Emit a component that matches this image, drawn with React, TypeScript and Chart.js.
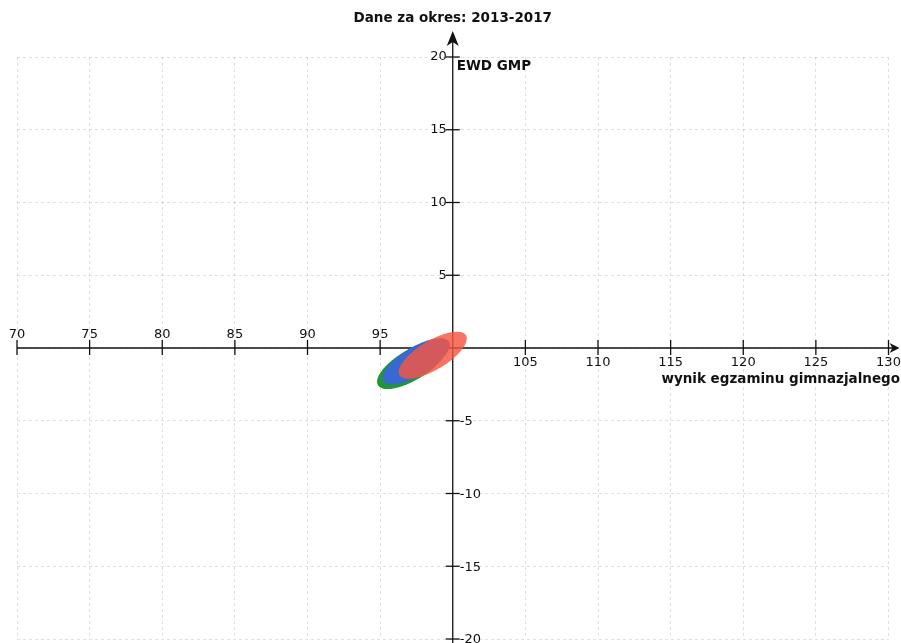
import React, { useEffect, useRef } from "react";
import { Chart, registerables } from "chart.js";

Chart.register(...registerables);

const TITLE = "Dane za okres: 2013-2017";
const X_LABEL = "wynik egzaminu gimnazjalnego";
const Y_LABEL = "EWD GMP";
const X_TICKS = [70, 75, 80, 85, 90, 95, 100, 105, 110, 115, 120, 125, 130];
const Y_TICKS = [-20, -15, -10, -5, 0, 5, 10, 15, 20];

// confidence ellipses (data units)
const ELLIPSE_CX = [97.2, 97.48, 98.62];
const ELLIPSE_CY = [-1.15, -0.92, -0.5];
const ELLIPSE_SEMI_MAJOR = [2.75, 2.65, 2.68];
const ELLIPSE_SEMI_MINOR = [1.05, 0.97, 1.0];
const ELLIPSE_ANGLE = [31, 31, 31];
const ELLIPSE_COLORS = ["rgba(32,150,52,1)", "rgba(55,105,210,1)", "rgba(246,86,64,0.82)"];

const FONT = "'DejaVu Sans', sans-serif";

const axesPlugin = {
  id: "axesThroughOrigin",
  beforeDatasetsDraw(chart: any) {
    const { ctx, scales } = chart;
    const xs = scales.x;
    const ys = scales.y;
    const x0 = xs.getPixelForValue(100);
    const y0 = ys.getPixelForValue(0);
    const xl = xs.getPixelForValue(X_TICKS[0]);
    const xr = xs.getPixelForValue(X_TICKS[X_TICKS.length - 1]);
    const yt = ys.getPixelForValue(Y_TICKS[Y_TICKS.length - 1]);
    const yb = ys.getPixelForValue(Y_TICKS[0]);
    ctx.save();
    ctx.strokeStyle = "#111";
    ctx.fillStyle = "#111";
    ctx.lineWidth = 1.3;
    // x axis
    ctx.beginPath();
    ctx.moveTo(xl, y0);
    ctx.lineTo(xr + 6, y0);
    ctx.stroke();
    ctx.beginPath();
    ctx.moveTo(xr + 11, y0);
    ctx.lineTo(xr + 1, y0 - 5);
    ctx.lineTo(xr + 4, y0);
    ctx.lineTo(xr + 1, y0 + 5);
    ctx.closePath();
    ctx.fill();
    // y axis
    ctx.beginPath();
    ctx.moveTo(x0, yb + 6);
    ctx.lineTo(x0, yt - 18);
    ctx.stroke();
    ctx.beginPath();
    ctx.moveTo(x0, yt - 26);
    ctx.lineTo(x0 - 6, yt - 11);
    ctx.lineTo(x0, yt - 15);
    ctx.lineTo(x0 + 6, yt - 11);
    ctx.closePath();
    ctx.fill();
    // ticks
    ctx.font = `13px ${FONT}`;
    for (const v of X_TICKS) {
      if (v === 100) continue;
      const px = xs.getPixelForValue(v);
      ctx.beginPath();
      ctx.moveTo(px, y0 - 8);
      ctx.lineTo(px, y0 + 7);
      ctx.stroke();
      ctx.textAlign = "center";
      if (v < 100) {
        ctx.textBaseline = "bottom";
        ctx.fillText(String(v), px, y0 - 7);
      } else {
        ctx.textBaseline = "top";
        ctx.fillText(String(v), px, y0 + 8);
      }
    }
    for (const v of Y_TICKS) {
      if (v === 0) continue;
      const py = ys.getPixelForValue(v);
      ctx.beginPath();
      ctx.moveTo(x0 - 7, py);
      ctx.lineTo(x0 + 7, py);
      ctx.stroke();
      ctx.textBaseline = "middle";
      if (v > 0) {
        ctx.textAlign = "right";
        ctx.fillText(String(v), x0 - 6, py);
      } else {
        ctx.textAlign = "left";
        ctx.fillText(String(v), x0 + 7, py + 1);
      }
    }
    // axis labels
    ctx.font = `bold 13.5px ${FONT}`;
    ctx.textAlign = "left";
    ctx.textBaseline = "middle";
    ctx.fillText(Y_LABEL, x0 + 4, yt + 9);
    ctx.textAlign = "right";
    ctx.fillText(X_LABEL, chart.width - 1, y0 + 31);
    // title
    ctx.textAlign = "center";
    ctx.fillText(TITLE, x0, 18);
    ctx.restore();
  },
  afterDatasetsDraw(chart: any) {
    const { ctx, scales } = chart;
    const xs = scales.x;
    const ys = scales.y;
    const meta = chart.getDatasetMeta(0);
    const pxX = Math.abs(xs.getPixelForValue(1) - xs.getPixelForValue(0));
    const pxY = Math.abs(ys.getPixelForValue(1) - ys.getPixelForValue(0));
    ctx.save();
    meta.data.forEach((pt: any, i: number) => {
      ctx.beginPath();
      ctx.ellipse(
        pt.x,
        pt.y,
        ELLIPSE_SEMI_MAJOR[i] * pxX,
        ELLIPSE_SEMI_MINOR[i] * pxY,
        (-ELLIPSE_ANGLE[i] * Math.PI) / 180,
        0,
        Math.PI * 2
      );
      ctx.fillStyle = ELLIPSE_COLORS[i];
      ctx.fill();
    });
    ctx.restore();
  },
};

export default function App() {
  const ref = useRef<HTMLCanvasElement>(null);
  useEffect(() => {
    if (!ref.current) return;
    const chart = new Chart(ref.current, {
      type: "scatter",
      data: {
        datasets: [
          {
            data: ELLIPSE_CX.map((x, i) => ({ x, y: ELLIPSE_CY[i] })),
            pointRadius: 0,
            pointHoverRadius: 0,
            showLine: false,
          },
        ],
      },
      options: {
        responsive: false,
        animation: false,
        events: [],
        layout: { padding: { left: 17, right: 12.5, top: 57, bottom: 4 } },
        plugins: { legend: { display: false }, tooltip: { enabled: false }, title: { display: false } },
        scales: {
          x: {
            type: "linear",
            min: 70,
            max: 130,
            ticks: { display: false, stepSize: 5 },
            grid: { color: "rgba(0,0,0,0.12)", drawTicks: false, lineWidth: 1 },
            border: { display: false, dash: [3, 3] },
          },
          y: {
            type: "linear",
            min: -20,
            max: 20,
            ticks: { display: false, stepSize: 5 },
            grid: { color: "rgba(0,0,0,0.12)", drawTicks: false, lineWidth: 1 },
            border: { display: false, dash: [3, 3] },
          },
        },
      },
      plugins: [axesPlugin],
    });
    return () => chart.destroy();
  }, []);
  return (
    <div style={{ position: "fixed", left: 0, top: 0, width: 901, height: 643, background: "#fff" }}>
      <canvas ref={ref} width={901} height={643} style={{ display: "block" }} />
    </div>
  );
}
